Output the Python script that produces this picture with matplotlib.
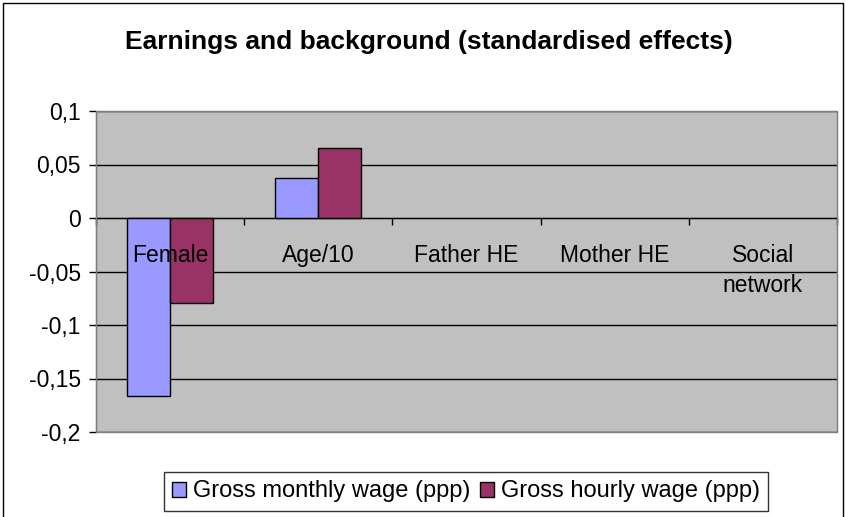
import matplotlib
matplotlib.use("Agg")
import matplotlib.pyplot as plt
from matplotlib.patches import Rectangle
import numpy as np

categories = ["Female", "Age/10", "Father HE", "Mother HE", "Social\nnetwork"]
monthly = [-0.166, 0.037, 0.0, 0.0, 0.0]
hourly = [-0.079, 0.065, 0.0, 0.0, 0.0]
series_names = ["Gross monthly wage (ppp)", "Gross hourly wage (ppp)"]
yticks = [0.1, 0.05, 0, -0.05, -0.1, -0.15, -0.2]
ytick_labels = ["0,1", "0,05", "0", "-0,05", "-0,1", "-0,15", "-0,2"]

plt.rcParams['font.family'] = ['Liberation Sans', 'DejaVu Sans']

W, H = 846, 517
fig = plt.figure(figsize=(W / 100, H / 100), dpi=100)
fig.patch.set_facecolor("white")
# outer chart border
fig.add_artist(Rectangle((3 / W, -0.05), (843 - 3) / W, 1.05 - 3 / H, transform=fig.transFigure,
                         fill=False, edgecolor="black", linewidth=1.0))

left, right, top, bottom = 96, 837, 111, 432
ax = fig.add_axes([left / W, 1 - bottom / H, (right - left) / W, (bottom - top) / H])
ax.set_facecolor("#C0C0C0")

x = np.arange(len(categories))
bw = 0.29
b1 = ax.bar(x - bw / 2, monthly, bw, color="#9999FF", edgecolor="black", linewidth=1.0,
            label=series_names[0], zorder=3)
b2 = ax.bar(x + bw / 2, hourly, bw, color="#993366", edgecolor="black", linewidth=1.0,
            label=series_names[1], zorder=3)
for bars, vals in ((b1, monthly), (b2, hourly)):
    for p, v in zip(bars, vals):
        if v == 0:
            p.set_visible(False)

ax.set_xlim(-0.5, len(categories) - 0.5)
ax.set_ylim(-0.2, 0.1)
ax.set_yticks(yticks)
ax.set_yticklabels(ytick_labels, fontsize=16.5)
ax.yaxis.grid(True, color="black", linewidth=1.0, zorder=1)
ax.set_axisbelow(True)

for s in ["top", "right"]:
    ax.spines[s].set_color("#808080")
ax.spines["left"].set_color("black")
ax.spines["bottom"].set_position(("data", 0))
ax.spines["bottom"].set_color("black")
ax.spines["bottom"].set_zorder(4)
ax.add_patch(Rectangle((0, 0), 1, 1, transform=ax.transAxes, fill=False,
                       edgecolor="#808080", linewidth=1.0, zorder=5, clip_on=False))

ax.set_xticks(np.arange(len(categories) + 1) - 0.5)
ax.set_xticklabels([])
ax.tick_params(axis="x", direction="out", length=5, width=1, color="black")
ax.tick_params(axis="y", direction="out", length=5, width=1, color="black", pad=6)

for xi, lab in zip(x, categories):
    ax.annotate(lab, xy=(xi, 0), xytext=(0, -19), textcoords="offset points",
                ha="center", va="top", fontsize=16.5, zorder=6, linespacing=1.35)

fig.text(429 / W, 1 - 42 / H, "Earnings and background (standardised effects)",
         ha="center", va="center", fontsize=19, fontweight="bold")

leg = fig.legend(loc="center", bbox_to_anchor=(466 / W, 1 - 491.5 / H), ncol=2,
                 fontsize=17, frameon=True, fancybox=False, handlelength=0.6,
                 handleheight=0.6, handletextpad=0.3, columnspacing=0.4,
                 borderpad=0.35, borderaxespad=0)
leg.get_frame().set_edgecolor("black")
leg.get_frame().set_linewidth(1.0)

fig.savefig("out.png", dpi=100)
